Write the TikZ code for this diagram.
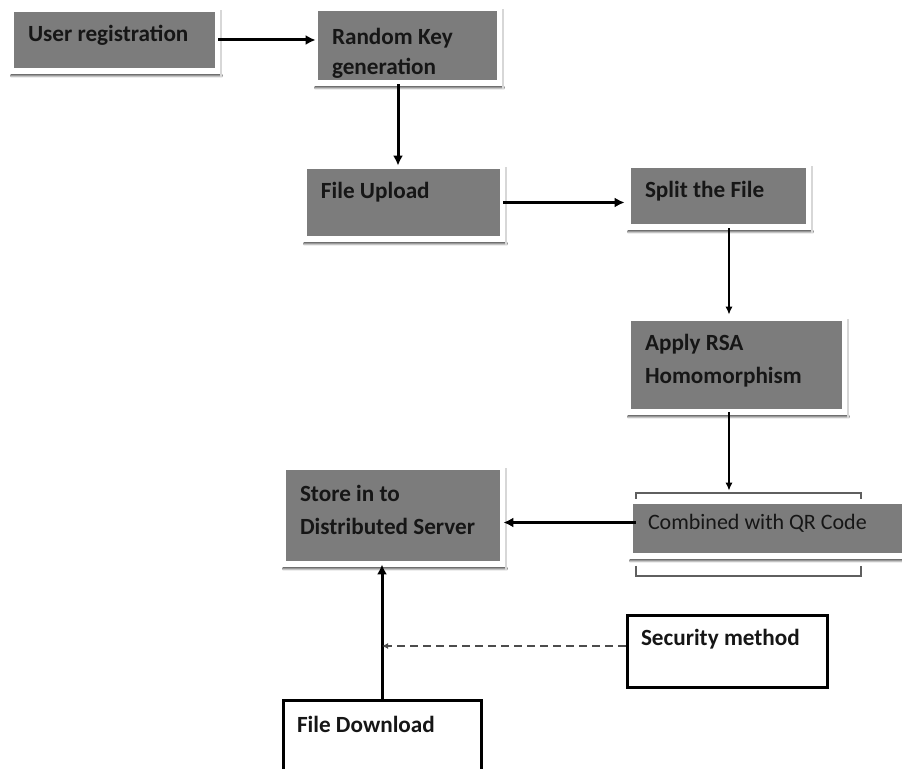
\documentclass[tikz,border=0pt]{standalone}
\usepackage{fontspec}
\setmainfont{Carlito}
\usetikzlibrary{arrows.meta,backgrounds}

\definecolor{boxgray}{RGB}{124,124,124}
\definecolor{ink}{RGB}{22,22,22}
\definecolor{shade}{RGB}{188,188,188}
\definecolor{rim}{RGB}{95,95,95}

\tikzset{
  gbox/.style={fill=boxgray, draw=none, inner sep=0pt},
  wbox/.style={fill=white, draw=black, line width=1.5pt, inner sep=0pt},
  tag/.style={anchor=north west, inner sep=0pt, label distance=0pt,
    xshift=7pt, yshift=-6.5pt, align=left, text=ink,
    font=\fontsize{11.6}{16.5}\selectfont\bfseries},
  qrtag/.style={tag, xshift=0.5pt, yshift=1.5pt, font=\fontsize{11}{14}\selectfont},
  bold/.style={draw=black, line width=1.5pt, -{Latex[length=5pt,width=5pt]}},
  slim/.style={draw=black, line width=0.6pt, -{Latex[length=4pt,width=3.5pt]}},
  hint/.style={draw=black!70, line width=1pt, dash pattern=on 4pt off 2.5pt,
    -{Latex[length=3pt,width=3pt]}}
}

\begin{document}
\begin{tikzpicture}[x=0.5pt,y=-0.5pt]
      \useasboundingbox (0,0) rectangle (902,769);

      \begin{scope}[every node/.style={gbox}]
        \node[minimum width=100.5pt, minimum height=28pt,
          label={[tag]north west:User registration}] (reg) at (114.5,40) {};
        \node[minimum width=89.5pt, minimum height=34.5pt,
          label={[tag, yshift=-2pt, font=\fontsize{11.6}{15}\selectfont\bfseries]north west:Random Key\\generation}] (key) at (407.5,45.5) {};
        \node[minimum width=96.5pt, minimum height=33.5pt,
          label={[tag]north west:File Upload}] (up) at (403.5,202.5) {};
        \node[minimum width=87.5pt, minimum height=28pt,
          label={[tag]north west:Split the File}] (split) at (718.5,196) {};
        \node[minimum width=105.5pt, minimum height=44pt,
          label={[tag]north west:Apply RSA\\Homomorphism}] (rsa) at (736.5,365) {};
        \node[minimum width=138.5pt, minimum height=24.5pt,
          label={[qrtag]north west:Combined with QR Code}] (qr) at (771.5,528.5) {};
        \node[minimum width=107pt, minimum height=45.5pt,
          label={[tag, yshift=-1pt]north west:Store in to\\Distributed Server}] (store) at (393,515.5) {};
      \end{scope}

      \begin{scope}[every node/.style={wbox}]
        \node[minimum width=100pt, minimum height=36pt,
          label={[tag]north west:Security method}] (sec) at (727,652) {};
        \node[minimum width=99pt, minimum height=49.5pt,
          label={[tag, yshift=-1pt]north west:File Download}] (down) at (382,750.5) {};
      \end{scope}

      % shadow bands under the gray boxes
      \begin{scope}[on background layer]
        \foreach \n in {reg,key,up,split,rsa,qr,store} {
          \fill[shade] ([xshift=-1.5pt,yshift=-3pt]\n.south west)
            rectangle ([xshift=3.5pt,yshift=-4.5pt]\n.south east);
          \fill[shade!60] ([xshift=2.5pt,yshift=1pt]\n.north east)
            rectangle ([xshift=3.5pt,yshift=-4.5pt]\n.south east);
        }
      \end{scope}

      % frame round the QR box
      \draw[rim, line width=0.6pt] (636,499) -- (636,493) -- (861,493) -- (861,499);
      \draw[rim, line width=0.6pt] (636,566) -- (636,576) -- (861,576) -- (861,566);

      \begin{scope}[every edge/.style={bold}]
        \path (reg.east) edge[shorten <=1.5pt, shorten >=1pt] (reg.east -| key.west);
        \path ([xshift=-4.75pt]key.south) edge[shorten <=2pt, shorten >=1.5pt]
          ([xshift=-4.75pt]key.south |- up.north);
        \path (up.east) edge[shorten <=1.5pt, shorten >=3pt] (up.east -| split.west);
        \path ([yshift=3pt]qr.west) edge[shorten <=-1.5pt, shorten >=1.5pt]
          ([yshift=3pt]qr.west -| store.east);
        \path (down.north) edge[shorten >=1.5pt] (down.north |- store.south);
      \end{scope}

      \begin{scope}[every edge/.style={slim}]
        \path ([xshift=5.25pt]split.south) edge[shorten <=2pt, shorten >=3pt]
          ([xshift=5.25pt]split.south |- rsa.north);
        \path ([xshift=-3.75pt]rsa.south) edge[shorten <=1.5pt, shorten >=6.5pt]
          ([xshift=-3.75pt]rsa.south |- qr.north);
      \end{scope}

      \path ([yshift=3pt]sec.west) edge[hint] ([yshift=3pt]sec.west -| down.north);

    \end{tikzpicture}
\end{document}
